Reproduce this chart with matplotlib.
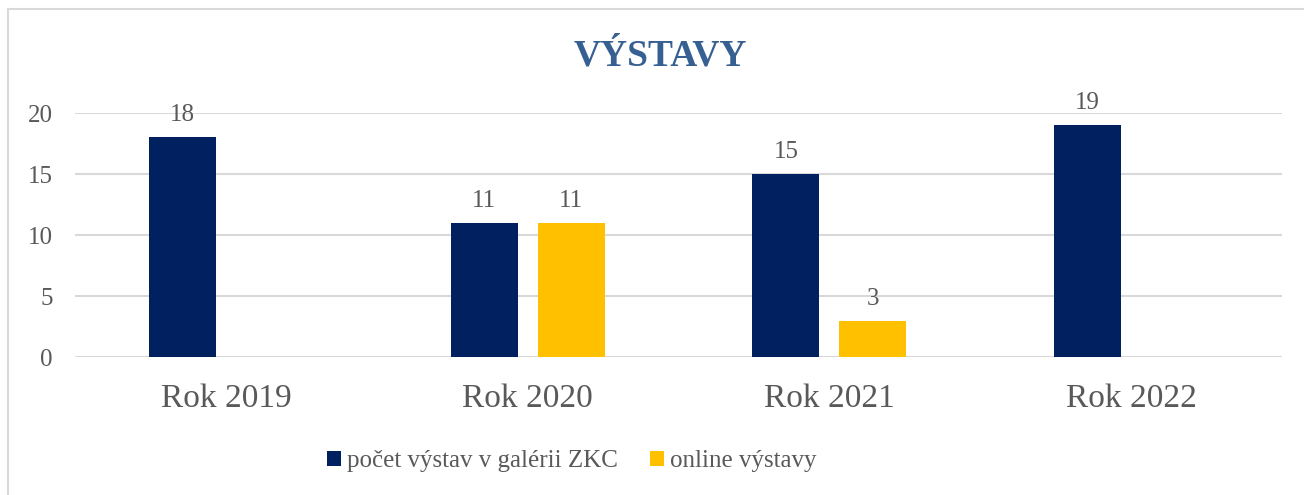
import matplotlib
matplotlib.use("Agg")
from matplotlib import pyplot as plt
from matplotlib.patches import Rectangle
import numpy as np

categories = ["Rok 2019", "Rok 2020", "Rok 2021", "Rok 2022"]
galeria = [18, 11, 15, 19]
online = [None, 11, 3, None]
series_names = ["počet výstav v galérii ZKC", "online výstavy"]
yticks = [0, 5, 10, 15, 20]

navy = "#002060"
gold = "#FFC000"
txt = "#595959"
grid = "#D9D9D9"

plt.rcParams['font.family'] = ['Liberation Serif', 'DejaVu Serif']

fig = plt.figure(figsize=(13.04, 4.95), dpi=100)
ax = fig.add_axes([0.0575, 0.2778, 0.9256, 0.4939])

x = np.arange(len(categories))
w = 0.222
off = 0.144
g_vals = [v if v is not None else 0 for v in galeria]
o_vals = [v if v is not None else 0 for v in online]
b1 = ax.bar(x - off, g_vals, w, color=navy, label=series_names[0], zorder=3)
b2 = ax.bar(x + off, o_vals, w, color=gold, label=series_names[1], zorder=3)

for bars, vals in ((b1, galeria), (b2, online)):
    for rect, v in zip(bars, vals):
        if v is None:
            continue
        ax.annotate(str(v), (rect.get_x() + rect.get_width() / 2, v),
                    xytext=(0, 11.5), textcoords="offset points",
                    ha="center", va="baseline", fontsize=18, color=txt)

ax.set_xlim(-0.5, len(categories) - 0.5)
ax.set_ylim(0, 20)
ax.set_yticks(yticks)
ax.set_yticklabels([str(t) for t in yticks])
ax.set_xticks(x)
ax.set_xticklabels(categories)
ax.tick_params(axis="y", length=0, pad=16, labelsize=18, labelcolor=txt)
ax.tick_params(axis="x", length=0, pad=19, labelsize=24, labelcolor=txt)
for s in ax.spines.values():
    s.set_visible(False)
ax.yaxis.grid(True, color=grid, linewidth=1.5, zorder=0)
ax.set_axisbelow(True)

fig.text(660 / 1304, 1 - 56 / 495, "VÝSTAVY", ha="center", va="center",
         fontsize=27, fontweight="bold", color="#376092")

fig.legend(handles=[b1, b2], loc="center", bbox_to_anchor=(572 / 1304, 1 - 461 / 495),
           ncol=2, frameon=False, fontsize=18, labelcolor=txt,
           handlelength=0.55, handleheight=0.55, handletextpad=0.25,
           columnspacing=1.3, borderpad=0)

fig.patches.append(Rectangle((8 / 1304, -0.1), 1.2, 1 - 9 / 495 + 0.1,
                             transform=fig.transFigure, fill=False,
                             edgecolor=grid, linewidth=1.5, figure=fig))

fig.savefig("out.png", dpi=100)
